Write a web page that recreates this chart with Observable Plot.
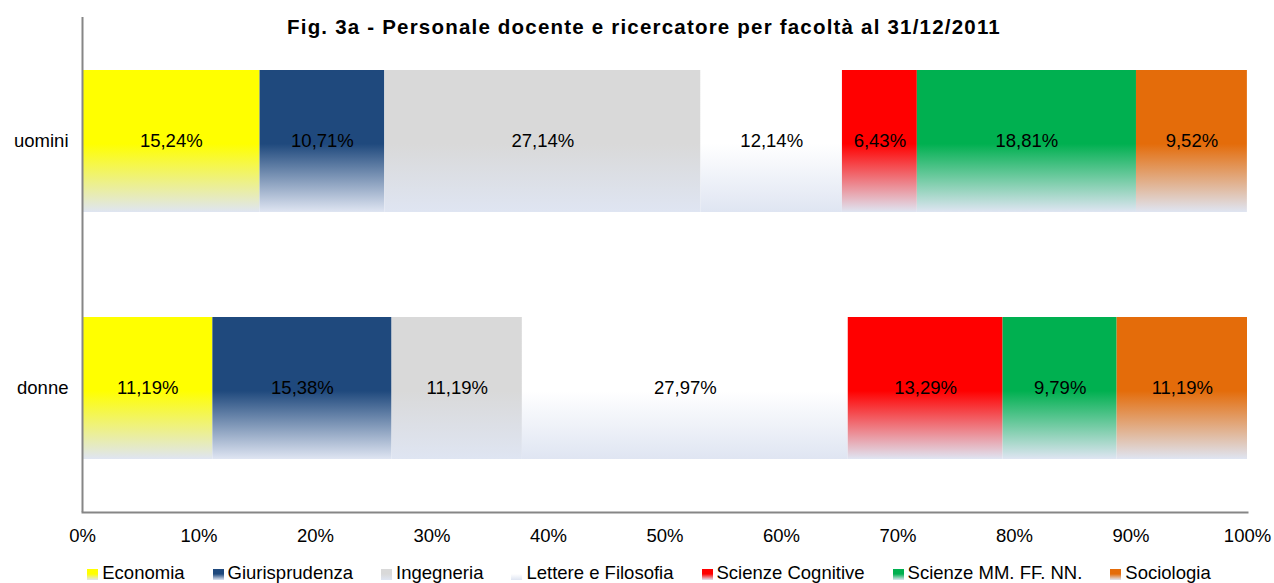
<!DOCTYPE html>
<html><head><meta charset="utf-8">
<script src="https://cdn.jsdelivr.net/npm/d3@7"></script>
<script src="https://cdn.jsdelivr.net/npm/@observablehq/plot@0.6"></script>
<style>
body{margin:0;background:#fff;font-family:"Liberation Sans",Arial,sans-serif;}
#chart svg{display:block;}
#legend{display:flex;justify-content:center;gap:28px;font-size:18.5px;line-height:20px;height:33px;box-sizing:border-box;padding-top:13px;padding-left:24px;color:#000;}
#legend .item{display:flex;align-items:flex-end;white-space:nowrap;}
#legend .sw{width:11px;height:11px;margin-right:4px;margin-bottom:3px;display:inline-block;}
</style></head><body><div id="chart"></div><script>
const title = "Fig. 3a - Personale docente e ricercatore per facoltà al 31/12/2011";
const groups = ["uomini", "donne"];
const faculties = ["Economia", "Giurisprudenza", "Ingegneria", "Lettere e Filosofia", "Scienze Cognitive", "Scienze MM. FF. NN.", "Sociologia"];
const colors = ["#ffff00", "#1f497d", "#d9d9d9", "#ffffff", "#ff0000", "#00b050", "#e46c0a"];
const uomini = [15.24, 10.71, 27.14, 12.14, 6.43, 18.81, 9.52];
const donne = [11.19, 15.38, 11.19, 27.97, 13.29, 9.79, 11.19];
const xTicks = [0, 10, 20, 30, 40, 50, 60, 70, 80, 90, 100];
const fadeColor = "#dfe5f2";

const series = [uomini, donne];
const rows = groups.flatMap((g, gi) => faculties.map((f, fi) => ({group: g, faculty: f, value: series[gi][fi], idx: fi})));
const fmt = v => v.toFixed(2).replace(".", ",") + "%";

const plot = Plot.plot({
  width: 1274, height: 550,
  marginLeft: 82, marginRight: 27, marginTop: 17, marginBottom: 38,
  style: {fontFamily: "Liberation Sans, Arial, sans-serif", fontSize: "18.5px", color: "#000", background: "#fff"},
  x: {domain: [0, 100], label: null},
  y: {domain: groups, paddingInner: 0.426, paddingOuter: 0.213, label: null},
  color: {type: "identity"},
  marks: [
    Plot.barX(rows, {x: "value", y: "group", fill: d => `url(#grad${d.idx})`}),
    Plot.text(rows, Plot.stackX({x: "value", y: "group", text: d => fmt(d.value), fill: "#000", fontSize: 18.5})),
    Plot.ruleX([0], {stroke: "#868686", strokeWidth: 2}),
    Plot.frame({anchor: "bottom", stroke: "#868686", strokeWidth: 2}),
    Plot.axisX({ticks: xTicks, tickFormat: d => d + "%", tickSize: 0, tickPadding: 16, label: null, fontSize: 18.5}),
    Plot.axisY({tickSize: 0, tickPadding: 14, label: null, fontSize: 18.5}),
    Plot.text([title], {frameAnchor: "top", lineAnchor: "middle", dy: 10, dx: -21, fontWeight: "bold", fontSize: 20.5, fill: "#000", className: "chart-title"})
  ]
});

const svg = d3.select(plot);
svg.selectAll(".chart-title text").style("letter-spacing", "1.2px");
const defs = svg.insert("defs", ":first-child");
colors.forEach((c, i) => {
  const g = defs.append("linearGradient").attr("id", "grad" + i)
    .attr("x1", 0).attr("y1", 0).attr("x2", 0).attr("y2", 1);
  g.append("stop").attr("offset", "0").attr("stop-color", c);
  g.append("stop").attr("offset", "0.52").attr("stop-color", c);
  g.append("stop").attr("offset", "1").attr("stop-color", fadeColor);
});
document.getElementById("chart").appendChild(plot);

const legend = d3.select("body").append("div").attr("id", "legend");
faculties.forEach((f, i) => {
  const it = legend.append("div").attr("class", "item");
  it.append("span").attr("class", "sw").style("background", `linear-gradient(to bottom, ${colors[i]} 45%, ${fadeColor})`);
  it.append("span").text(f);
});
</script></body></html>
